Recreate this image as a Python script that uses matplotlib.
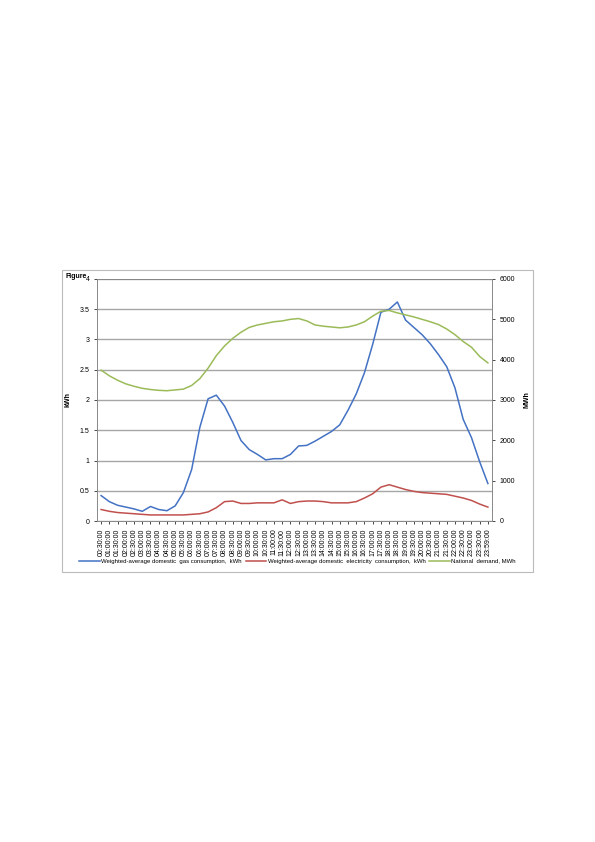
import matplotlib.pyplot as plt
from matplotlib.patches import Rectangle

plt.rcParams['font.family'] = ['Liberation Sans', 'DejaVu Sans']

times = ["%02d:%02d:00" % divmod(m, 60) for m in range(30, 24 * 60, 30)] + ["23:59:00"]

gas_kwh = [0.42, 0.32, 0.26, 0.23, 0.2, 0.16, 0.24, 0.19, 0.17, 0.25, 0.47, 0.85,
           1.55, 2.02, 2.08, 1.9, 1.63, 1.33, 1.18, 1.1, 1.01, 1.03, 1.03, 1.1,
           1.24, 1.25, 1.32, 1.4, 1.48, 1.59, 1.83, 2.1, 2.45, 2.92, 3.45, 3.5,
           3.62, 3.32, 3.2, 3.08, 2.93, 2.75, 2.55, 2.2, 1.68, 1.38, 0.98, 0.62]
elec_kwh = [0.19, 0.16, 0.14, 0.13, 0.12, 0.11, 0.1, 0.1, 0.1, 0.1, 0.1, 0.11,
            0.12, 0.15, 0.22, 0.32, 0.33, 0.29, 0.29, 0.3, 0.3, 0.3, 0.35, 0.29,
            0.32, 0.33, 0.33, 0.32, 0.3, 0.3, 0.3, 0.32, 0.38, 0.45, 0.56, 0.6,
            0.56, 0.52, 0.49, 0.47, 0.46, 0.45, 0.44, 0.41, 0.38, 0.34, 0.28, 0.23]
national_mwh = [3740, 3600, 3490, 3400, 3340, 3290, 3260, 3240, 3230, 3250, 3270, 3360,
                3530, 3790, 4100, 4340, 4530, 4680, 4800, 4860, 4900, 4940, 4960, 5000,
                5020, 4960, 4860, 4830, 4810, 4790, 4810, 4860, 4940, 5080, 5200, 5220,
                5160, 5110, 5060, 5000, 4940, 4870, 4760, 4620, 4450, 4310, 4080, 3920]

fig = plt.figure(figsize=(5.95, 8.42), dpi=100)
fig.patches.append(Rectangle((62 / 595, 1 - 572 / 842), 471 / 595, 302 / 842,
                             transform=fig.transFigure, fill=False, ec='#bbbbbb', lw=0.8))

ax = fig.add_axes([97 / 595, 1 - 521 / 842, 395 / 595, 242 / 842])
ax2 = ax.twinx()
x = range(len(times))

l1, = ax.plot(x, gas_kwh, color='#4472c4', lw=1.1)
l2, = ax.plot(x, elec_kwh, color='#c0504d', lw=1.1)
l3, = ax2.plot(x, national_mwh, color='#9bbb59', lw=1.1)

ax.set_ylim(0, 4)
ax.set_yticks([0, 0.5, 1, 1.5, 2, 2.5, 3, 3.5, 4])
ax.set_yticklabels(['0', '0.5', '1', '1.5', '2', '2.5', '3', '3.5', '4'])
ax2.set_ylim(0, 6000)
ax2.set_yticks(range(0, 6001, 1000))
ax.set_xlim(-0.5, len(times) - 0.5)
ax.set_xticks(list(x))
ax.set_xticklabels(times, rotation=90, fontsize=4.3)
ax.grid(axis='y', color='#a6a6a6', lw=1)
ax.set_axisbelow(True)
for a in (ax, ax2):
    a.tick_params(labelsize=5, length=2, width=0.5)
    for s in a.spines.values():
        s.set_color('#888888')
        s.set_linewidth(0.6)
ax.set_ylabel('kWh', fontsize=5, fontweight='bold', labelpad=6)
ax2.set_ylabel('MWh', fontsize=5, fontweight='bold', labelpad=6)

fig.text(65 / 595, 1 - 278 / 842, 'Figure', fontsize=5, fontweight='bold')
fig.legend([l1, l2, l3],
           ['Weighted-average domestic  gas consumption,  kWh',
            'Weighted-average domestic  electricity  consumption,  kWh',
            'National  demand, MWh'],
           loc='center', bbox_to_anchor=(0.5, 1 - 561 / 842), ncol=3, fontsize=4.3,
           frameon=False, handlelength=3.5, columnspacing=0.6, handletextpad=0.2)

fig.savefig('out.png', dpi=100)
